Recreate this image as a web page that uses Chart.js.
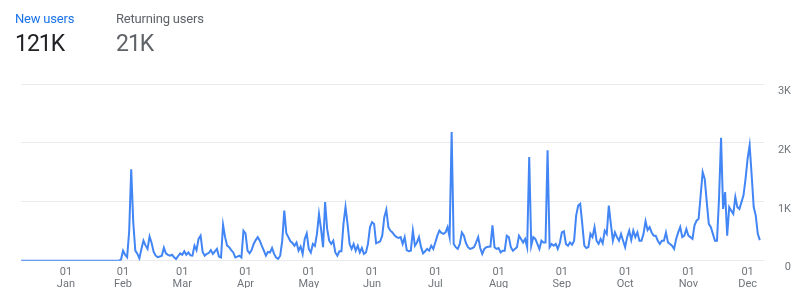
<!DOCTYPE html>
<html>
<head>
<meta charset="utf-8">
<script src="https://cdn.jsdelivr.net/npm/chart.js@4"></script>
<style>
  html, body { margin: 0; padding: 0; background: #fff; }
  body { width: 800px; height: 304px; position: relative; overflow: hidden; font-family: Roboto, Arial, sans-serif; }
  #wrap { position: absolute; left: 0; top: 0; width: 800px; height: 304px; }
  .metric { position: absolute; top: 11px; z-index: 2; }
  .metric .name { font-size: 13px; line-height: 16px; letter-spacing: -0.2px; }
  .metric .val { font-size: 23px; line-height: 28px; margin-top: 3px; letter-spacing: -1px; }
</style>
</head>
<body>
<div id="wrap"><canvas id="trendChart" width="800" height="304"></canvas></div>
<div class="metric" style="left:15px">
  <div class="name" style="color:#1a73e8">New users</div>
  <div class="val" style="color:#202124">121K</div>
</div>
<div class="metric" style="left:116px">
  <div class="name" style="color:#5f6368">Returning users</div>
  <div class="val" style="color:#5f6368">21K</div>
</div>
<script>
// daily new users, one value per day (first day = index 0)
const newUsers = [
  0, 0, 0, 0, 0, 0, 0, 0, 0, 0,
  0, 0, 0, 0, 0, 0, 0, 0, 0, 0,
  0, 0, 0, 0, 0, 0, 0, 0, 0, 0,
  0, 0, 0, 0, 0, 0, 0, 0, 0, 0,
  0, 0, 0, 0, 0, 0, 0, 0, 0, 20,
  170, 100, 60, 500, 1550, 650, 170, 120, 40, 200,
  340, 260, 200, 410, 300, 150, 85, 60, 70, 85,
  220, 125, 100, 85, 100, 60, 30, 80, 125, 100,
  160, 100, 140, 90, 85, 255, 180, 370, 425, 150,
  85, 115, 130, 180, 115, 160, 200, 70, 55, 610,
  400, 255, 230, 180, 140, 55, 70, 85, 55, 510,
  465, 170, 125, 180, 285, 350, 400, 340, 250, 170,
  85, 150, 140, 215, 115, 55, 30, 85, 340, 850,
  465, 400, 330, 300, 255, 310, 170, 240, 115, 370,
  465, 200, 140, 285, 250, 455, 795, 540, 230, 995,
  540, 340, 285, 340, 140, 85, 160, 160, 625, 910,
  625, 285, 200, 285, 170, 255, 140, 215, 115, 140,
  285, 570, 655, 625, 295, 310, 330, 425, 740, 865,
  570, 510, 480, 430, 400, 385, 400, 285, 400, 180,
  160, 170, 510, 255, 310, 400, 230, 125, 160, 200,
  170, 255, 200, 310, 425, 510, 470, 455, 480, 570,
  400, 2185, 285, 230, 200, 285, 480, 425, 300, 230,
  200, 210, 230, 310, 400, 215, 115, 200, 230, 235,
  240, 600, 230, 200, 215, 140, 170, 170, 425, 400,
  230, 170, 200, 230, 425, 370, 310, 370, 230, 1760,
  255, 400, 370, 285, 200, 340, 310, 310, 1875, 230,
  285, 255, 285, 200, 300, 480, 500, 285, 255, 310,
  270, 340, 765, 935, 965, 625, 255, 215, 230, 455,
  400, 570, 340, 285, 370, 295, 510, 455, 935, 625,
  340, 480, 400, 340, 455, 340, 230, 400, 510, 350,
  510, 400, 480, 340, 340, 455, 670, 520, 570, 480,
  425, 425, 340, 285, 340, 340, 480, 310, 285, 255,
  200, 370, 480, 570, 400, 425, 540, 425, 400, 370,
  600, 680, 710, 1110, 1505, 1390, 995, 625, 570, 455,
  340, 340, 1050, 2085, 880, 1165, 425, 910, 850, 795,
  1080, 910, 880, 995, 1110, 1390, 1730, 1960, 1450, 910,
  765, 455, 350
];

// month ticks: day index where each "01" label sits
const monthTickDays = [22, 50, 79, 110, 141, 172, 203, 234, 265, 296, 327, 356];
const monthNames = ['Jan', 'Feb', 'Mar', 'Apr', 'May', 'Jun', 'Jul', 'Aug', 'Sep', 'Oct', 'Nov', 'Dec'];

const yTickValues = [0, 1000, 2000, 3000];
const yTickLabels = ['0', '1K', '2K', '3K'];

(() => {
  const chartCanvas = document.getElementById('trendChart');
  const points = newUsers.map((v, i) => ({ x: i, y: v }));

  new Chart(chartCanvas, {
    type: 'line',
    data: {
      datasets: [{
        label: 'New users',
        data: points,
        borderColor: '#4285f4',
        borderWidth: 2,
        pointRadius: 0,
        tension: 0,
        fill: false
      }]
    },
    options: {
      responsive: false,
      animation: false,
      layout: { padding: { left: 21, right: 9, top: 84, bottom: 16 } },
      plugins: {
        legend: { display: false },
        tooltip: { enabled: false }
      },
      scales: {
        x: {
          type: 'linear',
          min: 0,
          max: 364,
          grid: { display: false },
          border: { display: false },
          afterBuildTicks: axis => { axis.ticks = monthTickDays.map(v => ({ value: v })); },
          ticks: {
            autoSkip: false,
            maxRotation: 0,
            padding: -3,
            color: '#70757a',
            font: { family: 'Roboto', size: 11, lineHeight: 1.15 },
            callback: v => {
              const i = monthTickDays.indexOf(v);
              return i < 0 ? null : ['01', monthNames[i]];
            }
          }
        },
        y: {
          position: 'right',
          min: 0,
          max: 3000,
          afterBuildTicks: axis => { axis.ticks = yTickValues.map(v => ({ value: v })); },
          grid: { color: '#e8eaed', drawTicks: false },
          border: { display: false },
          ticks: {
            padding: 7,
            crossAlign: 'far',
            labelOffset: 7,
            color: '#70757a',
            font: { family: 'Roboto', size: 11 },
            callback: v => yTickLabels[yTickValues.indexOf(v)]
          }
        }
      }
    }
  });
})();
</script>
</body>
</html>
